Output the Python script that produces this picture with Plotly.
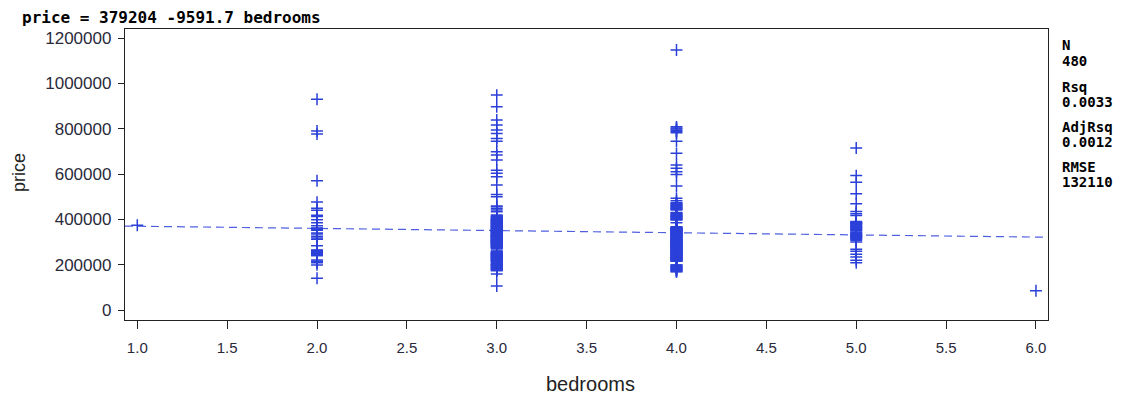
import plotly.graph_objects as go

# ---------------- data ----------------
bedrooms = [1, 2, 3, 4, 5, 6]

price_bed1 = [374000]

price_bed2 = [
    930000, 790000, 776000, 570000, 476000, 449000, 440000, 418000, 412000, 398000,
    385000, 372000, 362000, 359000, 356000, 340000, 335000, 325000, 318000, 312000,
    284000, 265000, 262000, 259000, 255000, 252000, 249000, 246000, 243000, 240000,
    221000, 215000, 208000, 199000, 140000,
    250000, 255000, 260000, 245000, 360000, 355000, 250000, 240000, 262000, 358000,
    256000, 248000, 244000, 352000,
]

price_bed3 = [
    948000, 897000, 838000, 816000, 794000, 779000, 757000, 745000, 698000, 684000,
    662000, 617000, 603000, 588000, 551000, 510000, 500000, 459000, 455000, 448000,
    441000, 434000,
    419000, 415000, 411000, 407000, 403000, 399000, 395000, 391000, 387000, 383000,
    379000, 375000, 371000, 367000, 363000, 359000, 355000, 351000, 347000, 343000,
    339000, 335000, 331000, 327000, 323000, 319000, 315000, 311000, 307000, 303000,
    299000, 295000, 291000, 287000, 283000, 279000, 275000, 272000,
    265000,
    257000, 254000, 251000, 248000, 245000, 242000, 239000, 236000, 233000, 230000,
    227000, 224000, 221000, 218000, 215000, 213000,
    206000, 203000, 200000, 197000, 194000, 191000, 188000, 185000, 182000, 179000,
    176000, 173000,
    159000, 106000,
    175000, 180000, 185000, 189000, 190000, 195000, 199000, 200000, 205000, 210000,
    215000, 219000, 220000, 225000, 229000, 230000, 235000, 239000, 240000, 245000,
    249000, 250000, 255000, 259000, 275000, 279000, 280000, 285000, 289000, 290000,
    295000, 298000, 299000, 300000, 305000, 309000, 310000, 315000, 318000, 320000,
    325000, 328000, 329000, 330000, 335000, 338000, 340000, 345000, 348000, 349000,
    350000, 355000, 358000, 360000, 365000, 368000, 369000, 370000, 375000, 378000,
    380000, 385000, 389000, 390000, 395000, 398000, 400000, 405000, 410000, 415000,
    225000, 235000, 245000, 285000, 295000, 305000, 315000, 325000, 335000, 345000,
    355000, 365000, 375000, 385000, 395000, 250000, 300000, 350000, 399000, 325000,
    275000, 299000, 349000, 310000, 330000, 340000, 360000, 370000, 380000, 390000,
    310000, 320000, 287000, 292000, 302000, 312000, 322000, 332000, 342000, 352000,
]

price_bed4 = [
    1147000, 808000, 803000, 798000, 793000, 788000, 782000, 745000, 691000, 640000,
    625000, 610000, 598000, 547000, 493000, 482000,
    473000, 469000, 465000, 461000, 457000, 453000, 449000, 445000, 441000,
    429000, 425000, 421000, 417000, 413000, 409000, 405000, 401000, 397000,
    385000,
    367000, 363000, 359000, 355000, 351000, 347000, 343000, 339000, 335000, 331000,
    327000, 323000, 319000, 315000, 311000, 307000, 303000, 299000, 295000, 291000,
    287000, 283000, 279000, 275000, 271000, 267000, 263000, 259000, 255000, 251000,
    247000, 243000, 239000, 235000, 231000, 227000, 223000, 219000, 215000,
    198000, 194000, 190000, 186000, 182000, 178000, 174000, 169000,
    220000, 225000, 229000, 230000, 235000, 239000, 240000, 245000, 249000, 250000,
    255000, 259000, 260000, 265000, 269000, 270000, 275000, 279000, 280000, 285000,
    289000, 290000, 295000, 299000, 300000, 305000, 309000, 310000, 315000, 319000,
    320000, 325000, 329000, 330000, 335000, 339000, 340000, 345000, 349000, 350000,
    355000, 359000, 360000, 365000, 225000, 250000, 275000, 299000, 300000, 325000,
    349000, 350000, 230000, 260000, 280000, 290000, 310000, 330000, 340000, 360000,
    399000, 400000, 410000, 420000, 430000, 450000, 460000, 470000, 415000, 445000,
    175000, 180000, 185000, 189000, 195000, 199000, 170000, 215000, 218000, 222000,
    232000, 242000, 252000, 262000, 272000, 282000, 292000, 302000, 312000, 322000,
    332000, 342000, 352000, 362000, 237000, 247000, 257000, 267000, 277000, 287000,
]

price_bed5 = [
    715000, 593000, 564000, 513000, 469000, 435000, 425000, 417000,
    391000, 387000, 383000, 379000, 375000, 371000, 367000, 363000, 359000, 355000, 352000,
    344000, 340000, 336000, 332000, 328000, 324000, 320000, 316000, 312000, 308000,
    300000, 268000, 259000, 246000, 234000, 220000, 208000,
    350000, 360000, 375000, 380000, 325000, 330000, 340000, 320000, 365000, 385000,
]

price_bed6 = [85000]

intercept = 379204
slope = -9591.7

stat_labels = ["N", "Rsq", "AdjRsq", "RMSE"]
stat_values = ["480", "0.0033", "0.0012", "132110"]

x_range = [0.9316, 6.067]
y_range = [-44100, 1239700]
x_ticks = [1.0, 1.5, 2.0, 2.5, 3.0, 3.5, 4.0, 4.5, 5.0, 5.5, 6.0]
y_ticks = [0, 200000, 400000, 600000, 800000, 1000000, 1200000]

# ---------------- build ----------------
groups = [price_bed1, price_bed2, price_bed3, price_bed4, price_bed5, price_bed6]
xs, ys = [], []
for b, g in zip(bedrooms, groups):
    xs.extend([b] * len(g))
    ys.extend(g)

BLUE = "#2B40D8"
LINE_BLUE = "#4F60E0"

fig = go.Figure()

fig.add_trace(go.Scatter(
    x=x_range,
    y=[intercept + slope * v for v in x_range],
    mode="lines",
    line=dict(color=LINE_BLUE, width=1.2, dash="8px,5px"),
    hoverinfo="skip",
    showlegend=False,
))

fig.add_trace(go.Scatter(
    x=xs, y=ys, mode="markers",
    marker=dict(symbol="cross-thin", size=8.5,
                line=dict(color=BLUE, width=1.5), color=BLUE),
    showlegend=False,
))

axis_common = dict(
    showgrid=False, zeroline=False,
    showline=True, linecolor="#222222", linewidth=1.3, mirror=True,
    ticks="outside", tickcolor="#222222", tickwidth=1.2,
)

fig.update_xaxes(
    range=x_range, tickvals=x_ticks, tickformat=".1f", ticklen=8,
    tickfont=dict(family="Liberation Sans, Arial", size=15, color="#2a2a3a"),
    ticklabelstandoff=6,
    **axis_common,
)
fig.update_yaxes(
    range=y_range, tickvals=y_ticks, tickformat="d", ticklen=6,
    tickfont=dict(family="Liberation Sans, Arial", size=17, color="#2a2a3a"),
    ticklabelstandoff=3,
    **axis_common,
)

annotations = []
annotations.append(dict(
    text="<b>price = 379204 -9591.7 bedrooms</b>",
    xref="paper", yref="paper", x=-0.1138, y=1.041,
    xanchor="left", yanchor="middle", showarrow=False,
    font=dict(family="DejaVu Sans Mono", size=16, color="#000000"),
))
annotations.append(dict(
    text="bedrooms", xref="paper", yref="paper", x=0.5038, y=-0.22,
    xanchor="center", yanchor="middle", showarrow=False,
    font=dict(family="Liberation Sans, Arial", size=20, color="#222222"),
))
annotations.append(dict(
    text="price", xref="paper", yref="paper", x=-0.1148, y=0.505,
    xanchor="center", yanchor="middle", showarrow=False, textangle=-90,
    font=dict(family="Liberation Sans, Arial", size=18, color="#222222"),
))

stat_centers = [(45, 61), (87, 102), (127, 142), (167, 182)]
for (lab, val), (yl, yv) in zip(zip(stat_labels, stat_values), stat_centers):
    for txt, yc in ((lab, yl), (val, yv)):
        annotations.append(dict(
            text="<b>" + txt + "</b>", xref="paper", yref="paper",
            x=1.0141, y=(320 - yc) / 291,
            xanchor="left", yanchor="middle", showarrow=False, borderpad=0,
            font=dict(family="DejaVu Sans Mono", size=14, color="#000000"),
        ))

fig.update_layout(
    width=1136, height=394,
    margin=dict(l=125, r=88, t=29, b=74, pad=0),
    paper_bgcolor="white", plot_bgcolor="white",
    annotations=annotations,
    showlegend=False,
)

fig.write_html(
    "out.html",
    config={"displayModeBar": False},
    post_script="document.body.style.margin='0px';document.body.style.overflow='hidden';",
)
